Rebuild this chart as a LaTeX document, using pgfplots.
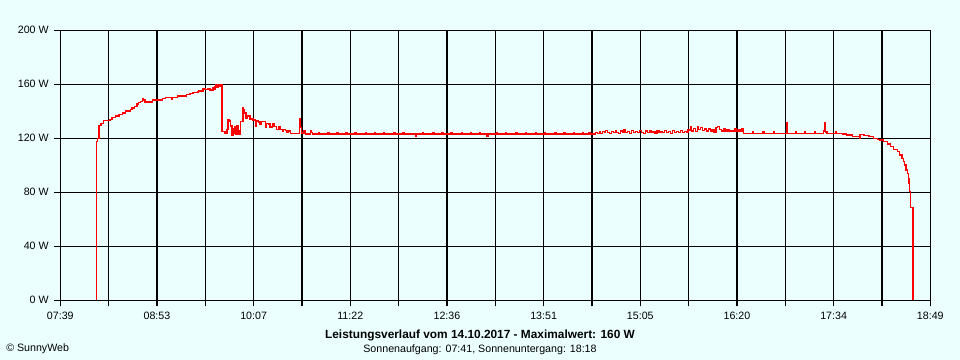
\documentclass[border=0pt]{standalone}
\usepackage{fontspec}
\setmainfont{Liberation Sans}
\usepackage{pgfplots}
\usepackage{pgfplotstable}
\pgfplotsset{compat=1.18}
\definecolor{bgc}{RGB}{235,255,255}
\definecolor{sred}{RGB}{255,0,0}

\pgfplotstableread{
t W
486.7 0
486.7 117.5
487.5 120
488.8 129.3
490.4 131.1
492.1 133.3
497.3 134.1
498.8 135.3
501.4 136.5
504.2 137.8
507.1 138.7
509.4 140.2
513 141.2
514.3 142.4
516 143.4
518.1 145.4
519.4 146.4
520.7 147.1
522.2 149
523 148.4
524.3 146.9
529.9 148.4
537.9 149.3
539.9 150.1
544.9 149.0
545.5 150.1
549.2 151.3
556.4 152.3
559 153.3
561.3 154
565.1 154.5
565.9 155
569 157
570.5 156
572.8 157
574.4 155.8
576.7 157.3
577.5 156.5
578.2 158
579 159.5
579.8 158
580.5 159.5
581.3 158.7
582.5 159.5
583.4 124.9
585.9 123.7
587.5 126.5
588.2 134
589.2 132.8
590 129.1
591.3 122.4
592.1 127
592.9 128.4
593.6 124
594.4 123.2
595.2 129.6
596 125.4
596.7 123
598 132.3
599.6 143
600.3 141
600.6 138.7
601.9 134.5
602.9 136.5
605.2 134.3
607.5 133.5
609.1 129
609.8 132.8
611.4 132
612.9 130.4
614.2 132.6
615.5 132.3
616.8 128.4
617.6 130.8
619.1 130.6
620.6 128.4
622.2 130.9
623.7 128.9
625.3 126.5
626.8 128.4
628.3 126.5
629.9 124.9
630.8 126.5
632.2 125.9
633.7 124.4
634.5 125.5
636.1 123.7
643 134.3
643.8 127.9
645 123.9
646.8 125.4
647.6 123.2
651.5 125.9
652.5 124.5
653.3 123.2
658 124.1
658.8 123.2
665 124.1
665.8 123.2
672 124.1
672.8 123.2
679 124.1
680 123.2
686 124.1
686.8 123.2
694 124.1
694.8 123.2
701 124.1
701.8 123.2
708 124.5
708.8 123.2
716 124.1
716.8 123.2
723 124.1
723.8 123.2
732.4 121.2
733.2 123.2
738 124.1
738.8 123.2
746 124.1
746.8 123.2
753 124.1
753.8 123.2
760 124.5
760.8 123.2
768 124.1
768.8 123.2
775 124.1
775.8 123.2
782 124.1
782.8 123.2
787.6 121.2
788.4 123.2
795 124.5
795.8 123.2
802 124.1
802.8 123.2
810 124.1
810.8 123.2
817 124.1
817.8 123.2
825 124.1
825.8 123.2
832 124.5
832.8 123.2
840 124.1
840.8 123.2
847 124.1
847.8 123.2
854 124.1
854.8 123.2
861 124.1
861.8 123.2
866 124.1
866.8 123.2
871 124.5
872.5 123.5
874 124.8
875 123.7
876.5 125
878 124.1
879 125.6
880.5 124.3
882 123.5
883.5 125
885 124.1
886.5 125.6
887.5 124.5
889 123.7
890.5 125.3
892 124.3
893 126.1
894.5 124.5
896 125
897.5 123.7
899 125.6
900.5 124.3
902 125
903.5 124.1
905 125.6
906.5 124.5
908 123.7
909.5 125.3
911 124.3
912.5 125.6
914 124.5
915.5 125
917 123.7
918.5 125.6
920 124.1
921.5 125
923 124.5
924.5 125.6
926 124.3
927.5 124.8
929 123.7
930.5 125.6
932 124.5
933.5 125
935 124.1
936.5 125.6
938 124.3
939.5 125
941 124.5
942.5 126.1
944.3 128.6
945.3 125.5
946.5 127.5
948 125
949.5 128.6
950.5 126.5
952 127.9
953.5 125.9
955 127
956.5 125.5
958 126.8
959.5 125.2
961 126.3
962.5 124.5
964 127.8
965 128.6
966.5 126.5
968 125.5
969.5 126.8
971 125
972.5 126.5
974 124.8
975.5 126
977 125.2
978.5 127.2
979.5 125.5
981 126.5
982.5 125.2
984 127
985.1 123.7
992 124.7
992.8 123.7
1000 124.7
1000.8 123.7
1008 124.7
1008.8 123.7
1018.3 131.9
1019.1 123.7
1025 124.7
1025.8 123.7
1032 124.7
1032.8 123.7
1040 124.7
1040.8 123.7
1046.5 125.5
1047.5 131.9
1048.3 124.7
1049.5 123.7
1056 124.7
1056.8 123.7
1061.2 123.2
1064.5 122.4
1068.9 121.2
1074.5 120
1074.8 123
1077.9 121.9
1081.8 121.2
1085.5 120
1088.1 119.3
1090.2 118.7
1092.7 117.5
1095.8 115.8
1098.3 113.8
1100.9 111.8
1103.5 110.1
1105.5 107.6
1107.3 105.2
1108.6 102.7
1109.3 100.2
1110.4 96.5
1111.2 94.1
1112 90.4
1112.7 86.7
1113.2 80.4
1113.8 68.9
1115.6 0
}\powertable

\begin{document}
\begin{tikzpicture}[x=0.75pt,y=0.75pt]
\fill[bgc] (-60.3,-59.7) rectangle (899.7,300.3);
\useasboundingbox (-60.3,-59.7) rectangle (899.7,300.3);
\begin{axis}[
  at={(0,0)}, anchor=south west,
  scale only axis, width=652.5pt, height=202.5pt,
  xmin=459, xmax=1129, ymin=0, ymax=200,
  xtick={459,496.222,533.444,570.667,607.889,645.111,682.333,719.556,756.778,794,831.222,868.444,905.667,942.889,980.111,1017.333,1054.556,1091.778,1129},
  xticklabels={07:39,,08:53,,10:07,,11:22,,12:36,,13:51,,15:05,,16:20,,17:34,,18:49},
  ytick={0,40,80,120,160,200},
  yticklabels={0 W,40 W,80 W,120 W,160 W,200 W},
  grid=major,
  major grid style={black, line width=0.85pt},
  axis line style={black, line width=0.85pt},
  tick style={black, line width=0.85pt},
  major tick length=4.5pt,
  tick align=outside,
  xtick pos=left, ytick pos=left,
  ticklabel style={font=\fontsize{8}{9.6}\selectfont},
  yticklabel style={anchor=east, inner sep=0pt, xshift=-4pt},
  xticklabel style={anchor=north, inner sep=0pt, yshift=-4pt},
]
\addplot[const plot, sred, line width=1pt] table[x=t, y=W] {\powertable};
\end{axis}
\node[font=\bfseries\fontsize{8.9}{10.5}\selectfont] at (419.7,-34.7) {Leistungsverlauf vom 14.10.2017 - Maximalwert: 160 W};
\node[font=\fontsize{8}{9.6}\selectfont] at (419.7,-49.7) {Sonnenaufgang: 07:41, Sonnenuntergang: 18:18};
\node[font=\fontsize{8}{9.6}\selectfont, anchor=west, inner sep=0pt] at (-54.3,-48.7) {© SunnyWeb};
\end{tikzpicture}
\end{document}
